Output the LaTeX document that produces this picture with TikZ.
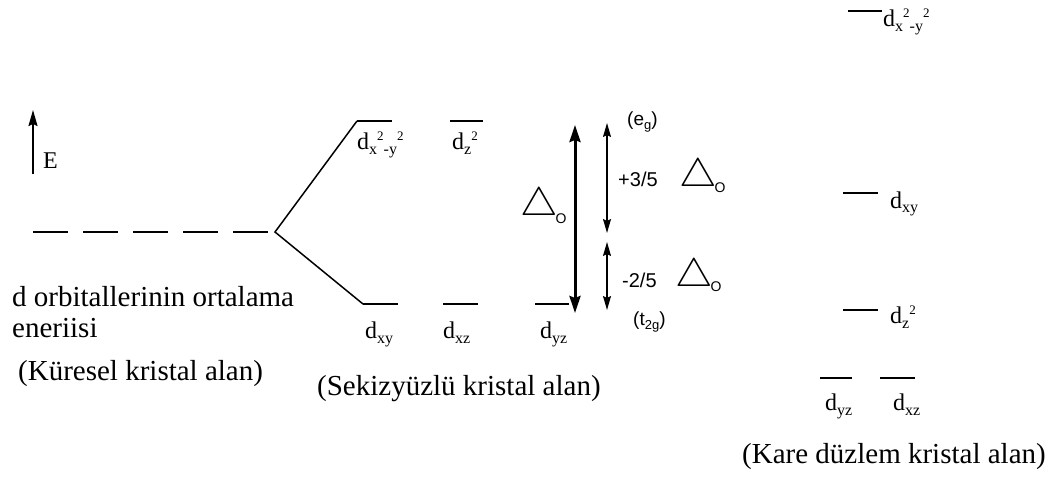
\documentclass[tikz,border=0pt]{standalone}
\usepackage{fontspec}
\usepackage{graphicx}
\setmainfont{Liberation Serif}
\newfontfamily\sansf{Liberation Sans}
\usetikzlibrary{arrows.meta}
\newcommand{\lo}[1]{\raisebox{-5pt}{\fontsize{16}{16}\selectfont #1}}
\newcommand{\hi}[1]{\raisebox{9pt}{\fontsize{13}{13}\selectfont #1}}
\newcommand{\sbs}[1]{\raisebox{-4pt}{\fontsize{13}{13}\selectfont #1}}
\newcommand{\bigtri}{\scalebox{1.7}[1.6]{$\bigtriangleup$}}
\begin{document}
\begin{tikzpicture}[x=1pt,y=-1pt,
  orb/.style={line width=1.8pt},
  diag/.style={line width=1.5pt},
  avg/.style={line width=1.8pt, dash pattern=on 35pt off 15pt},
  txt/.style={inner sep=0pt, anchor=base west, font=\fontsize{29}{34}\selectfont},
  lbl/.style={inner sep=0pt, anchor=base west, font=\fontsize{24}{28}\selectfont},
  sn/.style={inner sep=0pt, anchor=base west, font=\sansf\fontsize{20}{24}\selectfont},
  tri/.style={inner sep=0pt, anchor=center, font=\fontsize{24}{24}\selectfont},
  osub/.style={inner sep=0pt, anchor=center, font=\sansf\fontsize{14}{14}\selectfont},
  earrow/.style={-{Stealth[length=16pt,width=9pt,inset=2pt]}, line width=1.8pt},
  bigarrow/.style={{Stealth[length=17pt,width=11pt,inset=2pt]}-{Stealth[length=17pt,width=11pt,inset=2pt]}, line width=3pt},
  smallarrow/.style={{Stealth[length=14pt,width=8pt,inset=2pt]}-{Stealth[length=14pt,width=8pt,inset=2pt]}, line width=1.3pt}]
\useasboundingbox (0,0) rectangle (1049,489);

% energy axis
\coordinate (Eb) at (33,174);
\coordinate (Et) at (33,110);
\draw[earrow] (Eb) -- (Et);
\node[inner sep=0pt, anchor=base west, font=\fontsize{24}{26}\selectfont] (E) at (43,169) {E};

% spherical field average
\coordinate (avgL) at (33,232);
\coordinate (avgR) at (268,232);
\draw[avg] (avgL) -- (avgR);
\coordinate (v) at (275,232);

% octahedral levels
\coordinate (egAl) at (357,121); \coordinate (egAr) at (392,121);
\coordinate (egBl) at (450,121); \coordinate (egBr) at (483,121);
\coordinate (tAl) at (363,304); \coordinate (tAr) at (398,304);
\coordinate (tBl) at (443,304); \coordinate (tBr) at (478,304);
\coordinate (tCl) at (535,304); \coordinate (tCr) at (569,304);
\draw[orb] (egAl) -- (egAr);
\draw[orb] (egBl) -- (egBr);
\draw[orb] (tAl) -- (tAr);
\draw[orb] (tBl) -- (tBr);
\draw[orb] (tCl) -- (tCr);
\draw[diag] (egAl) -- (v) -- (tAl);

\node[lbl] (lx2y2) at (357,150) {d\lo{x}\hi{2}\lo{-y}\hi{2}};
\node[lbl] (lz2) at (452,150) {d\lo{z}\hi{2}};
\node[lbl] (lxy) at (365,338) {d\lo{xy}};
\node[lbl] (lxz) at (443,338) {d\lo{xz}};
\node[lbl] (lyz) at (540,338) {d\lo{yz}};

% splitting arrows
\coordinate (BAt) at (575,125); \coordinate (BAb) at (575,313);
\draw[bigarrow] (BAt) -- (BAb);
\node[tri] (DO) at (539,206) {\bigtri};
\node[osub] (DOs) at (561,219) {O};

\coordinate (SAt) at (607,123); \coordinate (SAb) at (607,233);
\draw[smallarrow] (SAt) -- (SAb);
\coordinate (SBt) at (607,242); \coordinate (SBb) at (607,310);
\draw[smallarrow] (SBt) -- (SBb);

\node[sn, font=\sansf\fontsize{19}{22}\selectfont] (eg) at (627,126) {(e\sbs{g})};
\node[sn, font=\sansf\fontsize{19}{22}\selectfont] (t2g) at (633,325) {(t\sbs{2g})};
\node[sn] (p35) at (618,186) {+3/5};
\node[tri] (D1) at (698,177) {\bigtri};
\node[osub] (D1s) at (720,188) {O};
\node[sn] (m25) at (622,287) {-2/5};
\node[tri] (D2) at (694,277) {\bigtri};
\node[osub] (D2s) at (716,287) {O};

% square planar levels
\coordinate (sAl) at (848,11); \coordinate (sAr) at (882,11);
\coordinate (sBl) at (843,193); \coordinate (sBr) at (878,193);
\coordinate (sCl) at (843,310); \coordinate (sCr) at (878,310);
\coordinate (sDl) at (820,378); \coordinate (sDr) at (852,378);
\coordinate (sEl) at (880,378); \coordinate (sEr) at (915,378);
\draw[orb] (sAl) -- (sAr);
\draw[orb] (sBl) -- (sBr);
\draw[orb] (sCl) -- (sCr);
\draw[orb] (sDl) -- (sDr);
\draw[orb] (sEl) -- (sEr);
\node[lbl] (qx2y2) at (883,27) {d\lo{x}\hi{2}\lo{-y}\hi{2}};
\node[lbl] (qxy) at (890,208) {d\lo{xy}};
\node[lbl] (qz2) at (890,323) {d\lo{z}\hi{2}};
\node[lbl] (qyz) at (825,410) {d\lo{yz}};
\node[lbl] (qxz) at (893,410) {d\lo{xz}};

% captions
\node[txt] (c1) at (12,306) {d orbitallerinin ortalama};
\node[txt] (c2) at (12,337) {eneriisi};
\node[txt] (c3) at (18,380) {(Küresel kristal alan)};
\node[txt] (c4) at (317,395) {(Sekizyüzlü kristal alan)};
\node[txt] (c5) at (742,463) {(Kare düzlem kristal alan)};
\end{tikzpicture}
\end{document}
